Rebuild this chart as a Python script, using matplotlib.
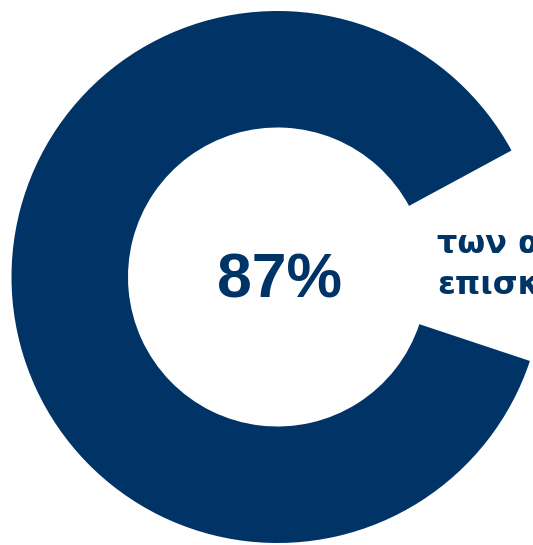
import matplotlib
matplotlib.use("Agg")
import matplotlib.pyplot as plt

# data
labels = ["yes", "rest"]
values = [87, 13]
center_label = "87%"
side_lines = ["των α", "επισκ"]

navy = "#003366"

fig = plt.figure(figsize=(5.33, 5.45), dpi=100)
ax = fig.add_axes([0, 0, 1, 1])

ax.pie(values, colors=[navy, "none"], startangle=28.4, counterclock=True,
       center=(277.5, 268), radius=266,
       wedgeprops=dict(width=116.5, linewidth=0), frame=True)
ax.set_xlim(0, 533)
ax.set_ylim(0, 545)
ax.axis("off")

ax.text(279.5, 264, center_label, ha="center", va="center",
        fontsize=45, fontweight="bold", color=navy, family="Liberation Sans")

for i, line in enumerate(side_lines):
    ax.text(437, 292 - 41 * i, line, ha="left", va="baseline",
            fontsize=23, fontweight="bold", color=navy, family="DejaVu Sans")

fig.savefig("out.png", dpi=100)
